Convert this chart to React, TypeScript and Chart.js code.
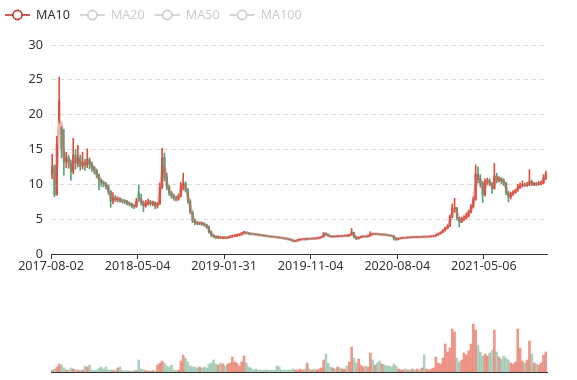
import React, { useEffect, useRef } from 'react';
import { Chart, registerables } from 'chart.js';

Chart.register(...registerables);

// ---------- data (weekly candles) ----------
const tickLabels = ['2017-08-02', '2018-05-04', '2019-01-31', '2019-11-04', '2020-08-04', '2021-05-06'];
const legendNames = ['MA10', 'MA20', 'MA50', 'MA100'];
const TICK_EVERY = 37;
const MA_WINDOW = 2;

const opens = [
  11.5, 12.6, 8.6, 19.2, 18.0, 15.0, 13.3, 13.8, 13.0, 11.8,
  14.2, 13.0, 13.8, 12.6, 13.2, 12.8, 13.5, 12.9, 12.4, 12.0,
  11.3, 10.6, 10.2, 10.0, 9.8, 9.0, 7.6, 8.1, 7.8, 7.9,
  7.7, 7.6, 7.5, 7.3, 7.2, 6.9, 6.8, 8.8, 8.0, 7.4,
  6.9, 7.3, 7.5, 7.2, 7.4, 6.9, 7.2, 9.6, 13.8, 11.0,
  9.6, 8.8, 8.3, 8.0, 7.9, 8.3, 9.8, 10.1, 9.2, 7.6,
  6.0, 4.8, 4.5, 4.4, 4.4, 4.3, 4.2, 3.9, 3.2, 2.7,
  2.5, 2.4, 2.45, 2.3, 2.4, 2.3, 2.4, 2.5, 2.6, 2.65,
  2.7, 2.8, 3.0, 3.1, 3.0, 2.9, 2.88, 2.85, 2.8, 2.75,
  2.7, 2.65, 2.6, 2.55, 2.5, 2.46, 2.44, 2.4, 2.35, 2.3,
  2.25, 2.2, 2.1, 2.0, 1.85, 1.9, 2.05, 2.1, 2.15, 2.1,
  2.2, 2.18, 2.25, 2.2, 2.3, 2.35, 2.45, 2.9, 2.8, 2.6,
  2.5, 2.55, 2.5, 2.6, 2.55, 2.6, 2.65, 2.6, 2.75, 3.1,
  2.5, 2.2, 2.4, 2.5, 2.55, 2.5, 2.6, 2.9, 2.85, 2.9,
  2.85, 2.8, 2.82, 2.75, 2.7, 2.65, 2.6, 2.3, 2.1, 2.25,
  2.3, 2.35, 2.33, 2.4, 2.38, 2.45, 2.4, 2.45, 2.43, 2.5,
  2.45, 2.5, 2.52, 2.55, 2.6, 2.75, 2.9, 3.1, 3.4, 3.7,
  4.0, 5.3, 6.5, 6.6, 5.2, 4.6, 5.0, 5.2, 5.5, 6.0,
  6.8, 7.8, 11.5, 10.8, 10.2, 8.5, 10.4, 10.5, 10.0, 9.4,
  11.2, 10.6, 10.8, 10.5, 10.2, 8.8, 8.2, 8.6, 8.8, 9.1,
  9.6, 9.8, 10.0, 9.9, 10.0, 10.4, 10.0, 10.1, 10.0, 10.1,
  10.2, 10.9,
];

const closes = [
  12.6, 8.5, 15.8, 22.0, 15.2, 13.2, 13.8, 13.1, 11.8, 14.2,
  13.0, 13.9, 12.6, 13.2, 12.8, 13.6, 12.9, 12.4, 12.0, 11.3,
  10.6, 10.2, 10.1, 9.8, 9.0, 7.6, 8.1, 7.8, 7.9, 7.7,
  7.6, 7.5, 7.3, 7.2, 6.9, 6.8, 7.6, 8.0, 7.4, 6.9,
  7.3, 7.5, 7.2, 7.4, 6.9, 7.2, 9.6, 13.8, 11.0, 9.6,
  8.8, 8.3, 8.0, 7.9, 8.3, 9.8, 10.1, 9.2, 7.6, 6.0,
  4.8, 4.5, 4.4, 4.45, 4.3, 4.2, 3.9, 3.2, 2.7, 2.5,
  2.4, 2.45, 2.3, 2.4, 2.3, 2.4, 2.5, 2.6, 2.65, 2.7,
  2.8, 3.0, 3.1, 3.0, 2.9, 2.88, 2.85, 2.8, 2.75, 2.7,
  2.65, 2.6, 2.55, 2.5, 2.46, 2.44, 2.4, 2.35, 2.3, 2.25,
  2.2, 2.1, 2.0, 1.85, 1.9, 2.05, 2.1, 2.15, 2.1, 2.2,
  2.18, 2.25, 2.2, 2.3, 2.35, 2.45, 2.9, 2.8, 2.6, 2.5,
  2.55, 2.5, 2.6, 2.55, 2.6, 2.65, 2.6, 2.75, 3.1, 2.5,
  2.2, 2.4, 2.5, 2.55, 2.5, 2.6, 2.9, 2.85, 2.9, 2.85,
  2.8, 2.82, 2.75, 2.7, 2.65, 2.6, 2.3, 2.1, 2.25, 2.3,
  2.35, 2.33, 2.4, 2.38, 2.45, 2.4, 2.45, 2.43, 2.5, 2.45,
  2.5, 2.52, 2.55, 2.6, 2.75, 2.9, 3.1, 3.4, 3.7, 4.0,
  5.3, 6.5, 6.6, 5.2, 4.6, 5.0, 5.2, 5.5, 6.0, 6.8,
  7.8, 11.5, 10.8, 10.2, 8.5, 10.4, 10.5, 10.0, 9.4, 11.2,
  10.6, 10.8, 10.5, 10.2, 8.8, 8.2, 8.6, 8.8, 9.1, 9.6,
  9.8, 10.0, 9.9, 10.0, 10.4, 10.0, 10.1, 10.0, 10.1, 10.2,
  10.9, 11.5,
];

const lows = [
  10.8, 8.2, 8.4, 18.8, 13.8, 11.3, 12.4, 12.3, 10.6, 11.5,
  12.2, 12.5, 12.0, 12.2, 12.0, 12.4, 12.2, 11.8, 11.5, 10.9,
  9.2, 9.7, 9.6, 9.3, 8.6, 6.7, 7.2, 7.5, 7.5, 7.4,
  7.3, 7.2, 7.0, 6.9, 6.6, 6.5, 6.7, 7.6, 7.0, 6.1,
  6.7, 7.0, 6.9, 6.9, 6.5, 6.6, 7.1, 9.4, 10.5, 9.2,
  8.4, 8.0, 7.7, 7.6, 7.7, 8.2, 9.2, 8.9, 7.3, 5.8,
  4.5, 4.2, 4.2, 4.2, 4.1, 4.0, 3.7, 3.0, 2.5, 2.3,
  2.2, 2.2, 2.2, 2.2, 2.2, 2.2, 2.3, 2.4, 2.5, 2.5,
  2.6, 2.7, 2.9, 2.9, 2.8, 2.8, 2.78, 2.72, 2.68, 2.63,
  2.58, 2.53, 2.48, 2.43, 2.4, 2.38, 2.33, 2.28, 2.24, 2.18,
  2.12, 2.03, 1.93, 1.75, 1.76, 1.86, 2.0, 2.04, 2.03, 2.06,
  2.1, 2.12, 2.14, 2.16, 2.25, 2.3, 2.42, 2.7, 2.52, 2.44,
  2.45, 2.44, 2.46, 2.48, 2.5, 2.55, 2.54, 2.56, 2.7, 2.3,
  2.05, 2.15, 2.35, 2.45, 2.44, 2.46, 2.56, 2.76, 2.8, 2.78,
  2.74, 2.74, 2.7, 2.64, 2.6, 2.54, 2.0, 1.95, 2.06, 2.2,
  2.26, 2.28, 2.3, 2.33, 2.35, 2.36, 2.36, 2.38, 2.4, 2.4,
  2.42, 2.45, 2.48, 2.5, 2.56, 2.7, 2.86, 3.05, 3.3, 3.6,
  3.95, 5.2, 6.0, 4.9, 3.9, 4.5, 4.8, 5.0, 5.3, 5.9,
  6.6, 7.7, 10.2, 9.6, 7.4, 8.3, 10.0, 9.8, 8.7, 9.3,
  10.2, 10.3, 10.1, 9.8, 8.5, 7.5, 7.9, 8.4, 8.7, 9.0,
  9.4, 9.6, 9.7, 9.7, 9.8, 9.8, 9.8, 9.8, 9.9, 9.9,
  10.1, 10.7,
];

const highs = [
  14.3, 12.8, 16.9, 25.4, 18.3, 17.9, 14.6, 14.2, 13.5, 16.6,
  15.0, 15.6, 14.2, 14.6, 13.6, 15.1, 13.8, 13.2, 12.6, 12.2,
  11.5, 10.8, 10.5, 10.3, 9.9, 9.1, 8.8, 8.4, 8.2, 8.1,
  7.9, 7.8, 7.7, 7.5, 7.3, 7.1, 8.0, 9.9, 8.6, 7.6,
  7.7, 7.9, 7.7, 7.6, 7.5, 7.4, 10.2, 15.2, 14.5, 11.6,
  9.9, 9.0, 8.6, 8.3, 8.6, 10.3, 11.6, 10.4, 9.4, 7.8,
  6.2, 5.0, 4.7, 4.6, 4.6, 4.5, 4.3, 4.0, 3.3, 2.8,
  2.6, 2.6, 2.5, 2.5, 2.5, 2.5, 2.6, 2.7, 2.8, 2.9,
  2.9, 3.1, 3.3, 3.2, 3.1, 3.0, 2.95, 2.9, 2.86, 2.8,
  2.76, 2.7, 2.66, 2.6, 2.56, 2.52, 2.5, 2.45, 2.4, 2.35,
  2.3, 2.24, 2.14, 2.04, 1.96, 2.1, 2.16, 2.2, 2.2, 2.3,
  2.26, 2.3, 2.3, 2.35, 2.42, 2.5, 3.1, 3.06, 2.85, 2.65,
  2.62, 2.6, 2.66, 2.65, 2.66, 2.72, 2.7, 2.82, 3.7, 3.15,
  2.55, 2.45, 2.55, 2.62, 2.6, 2.68, 3.2, 3.0, 2.96, 2.95,
  2.9, 2.88, 2.86, 2.8, 2.75, 2.7, 2.64, 2.34, 2.3, 2.35,
  2.4, 2.4, 2.44, 2.45, 2.5, 2.5, 2.5, 2.5, 2.54, 2.56,
  2.55, 2.58, 2.6, 2.66, 2.8, 2.96, 3.2, 3.5, 3.85, 4.2,
  5.6, 7.2, 8.0, 6.7, 5.3, 5.3, 5.5, 5.9, 6.3, 7.1,
  8.2, 12.8, 12.5, 11.4, 10.4, 10.8, 10.9, 10.8, 10.3, 13.0,
  11.6, 11.1, 11.0, 10.8, 10.3, 9.0, 8.9, 9.1, 9.3, 10.0,
  10.2, 10.5, 10.2, 10.3, 12.1, 10.6, 10.3, 10.3, 10.4, 10.5,
  11.4, 11.9,
];

const volumes = [
  2, 3, 5, 8, 7, 4, 2, 2, 4, 3,
  2, 2, 1.5, 2, 6, 5, 7, 2, 1.5, 2,
  4, 5, 3, 5, 2, 2, 1.5, 2, 4, 5,
  1.5, 1, 1.5, 1, 1, 1.5, 1.5, 12, 3, 2,
  1.5, 1, 1, 1.5, 1, 7, 9, 11, 9, 6,
  5, 7, 2, 1.5, 2, 11, 17, 14, 10, 6,
  5, 5, 4, 5, 4, 5, 4, 8, 9, 12,
  8, 7, 9, 8, 6, 8, 9, 15, 10, 9,
  6, 10, 16, 9, 5, 4, 2, 3, 2, 2,
  1.5, 2, 2, 1.5, 2, 1.5, 6, 5, 2, 2,
  1.5, 2, 2, 3, 2, 2, 3, 2, 3, 9,
  3, 2, 3, 2, 3, 4, 12, 18, 9, 5,
  4, 3, 5, 4, 3, 3, 6, 10, 25, 14,
  9, 13, 7, 5, 6, 5, 19, 12, 7, 9,
  11, 8, 7, 6, 6, 5, 8, 6, 3, 2,
  2, 3, 2, 2, 3, 2, 3, 2, 4, 17,
  3, 2, 3, 4, 15, 9, 8, 14, 28, 20,
  24, 43, 40, 14, 10, 12, 19, 17, 21, 28,
  48, 42, 27, 20, 16, 18, 16, 19, 22, 42,
  20, 15, 13, 16, 14, 12, 9, 8, 10, 43,
  24, 11, 9, 12, 31, 18, 9, 8, 7, 9,
  17, 20,
];

// ---------- styles ----------
const FONT_FAMILY = '"Noto Sans", sans-serif';
const FONT_SIZE = 12.6;
const TEXT_COLOR = '#333';
const UP_COLOR = '#dc5040';
const DOWN_COLOR = '#5a9f78';
const UP_VOL = 'rgba(228, 88, 70, 0.62)';
const DOWN_VOL = 'rgba(96, 165, 126, 0.5)';
const MA_COLOR = '#c23531';
const MA_LINE = 'rgba(214, 90, 84, 0.45)';

const N = closes.length;
const isUp = (i: number) => closes[i] >= opens[i];

const legendPlugin = {
  id: 'maLegend',
  afterDraw(chart: any) {
    const ctx = chart.ctx as CanvasRenderingContext2D;
    ctx.save();
    ctx.font = `${FONT_SIZE}px ${FONT_FAMILY}`;
    ctx.textBaseline = 'middle';
    ctx.textAlign = 'left';
    let x = 5;
    const y = 15;
    legendNames.forEach((name, k) => {
      const c = k === 0 ? MA_COLOR : '#ccc';
      ctx.strokeStyle = c;
      ctx.lineWidth = 1.6;
      ctx.beginPath();
      ctx.moveTo(x, y);
      ctx.lineTo(x + 25, y);
      ctx.stroke();
      ctx.beginPath();
      ctx.arc(x + 12.5, y, 4.6, 0, Math.PI * 2);
      ctx.fillStyle = '#fff';
      ctx.fill();
      ctx.stroke();
      ctx.fillStyle = k === 0 ? TEXT_COLOR : '#ccc';
      ctx.fillText(name, x + 31, y);
      x += 31 + ctx.measureText(name).width + 10;
    });
    ctx.restore();
  },
};

export default function App() {
  const priceRef = useRef<HTMLCanvasElement>(null);
  const volRef = useRef<HTMLCanvasElement>(null);

  useEffect(() => {
    const font = { family: FONT_FAMILY, size: FONT_SIZE };
    const idx = closes.map((_, i) => i);
    const bodies = idx.map((i) => ({ x: i, y: [opens[i], closes[i]] }));
    const wicks = idx.map((i) => ({ x: i, y: [lows[i], highs[i]] }));
    const candleColors = idx.map((i) => (isUp(i) ? UP_COLOR : DOWN_COLOR));
    const ma = idx
      .filter((i) => i >= MA_WINDOW - 1)
      .map((i) => {
        let s = 0;
        for (let k = 0; k < MA_WINDOW; k++) s += closes[i - k];
        return { x: i, y: s / MA_WINDOW };
      });

    const xBase = {
      type: 'linear' as const,
      min: -0.5,
      max: N - 0.5,
      offset: false,
    };

    const price = new Chart(priceRef.current!, {
      type: 'bar',
      data: {
        datasets: [
          {
            type: 'line',
            label: 'MA10',
            data: ma as any,
            borderColor: MA_LINE,
            borderWidth: 3,
            pointRadius: 0,
            tension: 0.3,
            fill: false,
          } as any,
          {
            type: 'bar',
            label: 'body',
            data: bodies as any,
            backgroundColor: candleColors,
            barThickness: 1.6,
            grouped: false,
            borderWidth: 0,
          } as any,
          {
            type: 'bar',
            label: 'wick',
            data: wicks as any,
            backgroundColor: candleColors,
            barThickness: 1,
            grouped: false,
            borderWidth: 0,
          } as any,
        ],
      },
      options: {
        responsive: false,
        animation: false,
        events: [],
        layout: { padding: { top: 45, right: 30, left: 0, bottom: 0 } },
        plugins: { legend: { display: false }, tooltip: { enabled: false } },
        scales: {
          x: {
            ...xBase,
            afterBuildTicks: (s: any) => {
              s.ticks = tickLabels.map((_, k) => ({ value: -0.5 + k * TICK_EVERY }));
            },
            afterFit: (s: any) => {
              s.height = 36;
            },
            ticks: {
              autoSkip: false,
              maxRotation: 0,
              padding: 0,
              font,
              color: TEXT_COLOR,
              callback: (_v: any, i: number) => tickLabels[i],
            },
            grid: { drawOnChartArea: false, tickLength: 5, color: '#333', offset: false },
            border: { display: true, color: '#333', width: 1 },
          } as any,
          y: {
            min: 0,
            max: 30,
            afterFit: (s: any) => {
              s.width = 51;
            },
            ticks: { stepSize: 5, padding: 8, font, color: TEXT_COLOR },
            grid: { drawTicks: false, color: '#dddddd', lineWidth: 1 },
            border: { display: false, dash: [5, 3] },
          } as any,
        },
      },
      plugins: [legendPlugin],
    });

    const vol = new Chart(volRef.current!, {
      type: 'bar',
      data: {
        datasets: [
          {
            label: 'Volume',
            data: idx.map((i) => ({ x: i, y: volumes[i] })) as any,
            backgroundColor: idx.map((i) => (isUp(i) ? UP_VOL : DOWN_VOL)),
            barThickness: 2,
            grouped: false,
            borderWidth: 0,
          } as any,
        ],
      },
      options: {
        responsive: false,
        animation: false,
        events: [],
        layout: { padding: { top: 10, right: 30, left: 51, bottom: 0 } },
        plugins: { legend: { display: false }, tooltip: { enabled: false } },
        scales: {
          x: {
            ...xBase,
            afterFit: (s: any) => {
              s.height = 8;
            },
            ticks: { display: false },
            grid: { display: false },
            border: { display: true, color: '#333', width: 1 },
          } as any,
          y: { display: false, min: 0, max: 72 },
        },
      },
    });

    return () => {
      price.destroy();
      vol.destroy();
    };
  }, []);

  return (
    <div style={{ position: 'absolute', left: 0, top: 0, width: 577, height: 380, background: '#fff' }}>
      <canvas ref={priceRef} width={577} height={290} style={{ position: 'absolute', left: 0, top: 0 }} />
      <canvas ref={volRef} width={577} height={90} style={{ position: 'absolute', left: 0, top: 290 }} />
    </div>
  );
}
